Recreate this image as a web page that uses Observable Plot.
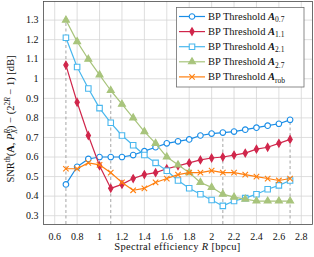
<!DOCTYPE html>
<html><head><meta charset="utf-8">
<script src="https://cdn.jsdelivr.net/npm/d3@7"></script>
<script src="https://cdn.jsdelivr.net/npm/@observablehq/plot@0.6"></script>
<style>
html,body{margin:0;padding:0;background:#fff;}
</style>
</head><body><div id="chart"></div>
<script>
// Spectral efficiency R [bpcu]
const rate = [0.7,0.8,0.9,1.0,1.1,1.2,1.3,1.4,1.5,1.6,1.7,1.8,1.9,2.0,2.1,2.2,2.3,2.4,2.5,2.6,2.7];
// SNR gap values [dB] per BP threshold
const bpA07 = [0.46,0.55,0.59,0.60,0.60,0.60,0.61,0.63,0.65,0.67,0.68,0.69,0.71,0.72,0.725,0.73,0.74,0.75,0.76,0.77,0.79];
const bpA11 = [1.07,0.88,0.71,0.555,0.44,0.46,0.49,0.51,0.52,0.54,0.555,0.57,0.585,0.595,0.60,0.61,0.62,0.64,0.65,0.67,0.69];
const bpA21 = [1.21,1.06,0.95,0.85,0.775,0.71,0.66,0.61,0.57,0.53,0.48,0.44,0.41,0.38,0.35,0.375,0.39,0.41,0.435,0.455,0.48];
const bpA27 = [1.30,1.19,1.10,1.02,0.94,0.87,0.80,0.73,0.67,0.60,0.56,0.52,0.47,0.445,0.41,0.395,0.385,0.375,0.375,0.375,0.375];
const bpArob = [0.54,0.54,0.57,0.56,0.52,0.47,0.43,0.44,0.47,0.49,0.51,0.52,0.52,0.53,0.52,0.52,0.51,0.50,0.49,0.48,0.49];
const seriesKeys = ["0.7","1.1","2.1","2.7","rob"];
const thresholds = [0.7, 1.1, 2.1, 2.7];
const xTicks = [0.6,0.8,1.0,1.2,1.4,1.6,1.8,2.0,2.2,2.4,2.6,2.8];
const yTicks = [0.3,0.4,0.5,0.6,0.7,0.8,0.9,1.0,1.1,1.2,1.3];

const styles = {
  "0.7": {color:"#1a8de6", symbol:"circle", fill:"white", r:2.8, sw:1.2},
  "1.1": {color:"#d0264b", symbol:"diamond", fill:"#d0264b", r:2.3, sw:1.2},
  "2.1": {color:"#49b7ee", symbol:"square", fill:"white", r:3.1, sw:1.2},
  "2.7": {color:"#a8c47c", symbol:"triangle", fill:"#a8c47c", r:2.6, sw:1.2},
  "rob": {color:"#ff7f0e", symbol:"times", fill:"none", r:2.6, sw:1.2}
};
const valuesByKey = {"0.7":bpA07, "1.1":bpA11, "2.1":bpA21, "2.7":bpA27, "rob":bpArob};

const rows = seriesKeys.flatMap(k => rate.map((x,i)=>({series:k, x, y:valuesByKey[k][i]})));
const yDomain = [0.255, 1.395];
const ruleRows = thresholds.map(t => {
  const i = rate.findIndex(r => Math.abs(r - t) < 1e-9);
  return {x:t, top: d3.max(seriesKeys, k => valuesByKey[k][i])};
});
const fmt = d => String(+(+d).toFixed(1));
const font = "'Liberation Serif', serif";

const marks = [
  Plot.gridX(xTicks, {stroke:"#d6d6d6", strokeOpacity:1, strokeWidth:0.8}),
  Plot.gridY(yTicks, {stroke:"#d6d6d6", strokeOpacity:1, strokeWidth:0.8}),
  Plot.ruleX(ruleRows, {x:"x", y1:() => yDomain[0], y2:"top", stroke:"#808080", strokeWidth:0.7, strokeDasharray:"3,2.5"})
];
for (const k of seriesKeys) {
  const s = styles[k];
  const data = rows.filter(d => d.series === k);
  marks.push(Plot.line(data, {x:"x", y:"y", stroke:s.color, strokeWidth:s.sw}));
  marks.push(Plot.dot(data, {x:"x", y:"y", symbol:()=>s.symbol, r:s.r, stroke:s.color, fill:s.fill, strokeWidth:1.1}));
}
marks.push(Plot.frame({stroke:"#4a4a4a", strokeWidth:0.8}));
marks.push(Plot.axisX(xTicks, {tickSize:0, tickPadding:8, tickFormat:fmt, label:null, fontSize:10}));
marks.push(Plot.axisY(yTicks, {tickSize:0, tickPadding:5, tickFormat:fmt, label:null, fontSize:10}));

const chart = Plot.plot({
  width:314, height:257,
  marginLeft:43, marginRight:2, marginTop:1, marginBottom:33,
  style:{fontFamily:font, fontSize:"10px", background:"white", color:"#111"},
  x:{domain:[0.5,2.9]},
  y:{domain:yDomain},
  symbol:{type:"identity"},
  marks
});
document.getElementById("chart").append(chart);

const svg = d3.select(chart);
// x label
const xl = svg.append("text").attr("x", 177.5).attr("y", 249.5).attr("text-anchor","middle")
  .attr("font-family", font).attr("font-size", 10.5).attr("fill","#111").attr("letter-spacing", 0.3);
xl.append("tspan").text("Spectral efficiency ");
xl.append("tspan").attr("font-style","italic").text("R");
xl.append("tspan").text(" [bpcu]");

// y label
const yl = svg.append("text").attr("transform","translate(14,119) rotate(-90)").attr("text-anchor","middle")
  .attr("font-family", font).attr("font-size", 10.5).attr("fill","#111");
const parts = [
  {t:"SNR"},
  {t:"th", fs:7.5, dy:-4},
  {t:"(", dy:4},
  {t:"A", fw:"bold"},
  {t:", "},
  {t:"P", fi:true},
  {t:"R", fs:7.5, fi:true, dy:-4},
  {t:"X", fs:7.5, fi:true, dx:-4.6, dy:7},
  {t:") \u2212 (2", dy:-3},
  {t:"2", fs:7.5, dy:-4},
  {t:"R", fs:7.5, fi:true},
  {t:" \u2212 1) [dB]", dy:4}
];
for (const p of parts) {
  const ts = yl.append("tspan").text(p.t);
  if (p.fs) ts.attr("font-size", p.fs);
  if (p.fi) ts.attr("font-style","italic");
  if (p.fw) ts.attr("font-weight", p.fw);
  if (p.dx) ts.attr("dx", p.dx);
  if (p.dy) ts.attr("dy", p.dy);
}

// legend
const lg = svg.append("g");
lg.append("rect").attr("x",176.5).attr("y",7.5).attr("width",127.5).attr("height",79.5)
  .attr("fill","white").attr("stroke","#6e6e6e").attr("stroke-width",0.8);
const symMap = {circle:d3.symbolCircle, diamond:d3.symbolDiamond, square:d3.symbolSquare, triangle:d3.symbolTriangle, times:d3.symbolTimes};
seriesKeys.forEach((k,i) => {
  const s = styles[k];
  const y = 16.5 + i*15.1;
  lg.append("line").attr("x1",179).attr("x2",205).attr("y1",y).attr("y2",y).attr("stroke",s.color).attr("stroke-width",s.sw);
  lg.append("path").attr("transform",`translate(192,${y})`)
    .attr("d", d3.symbol(symMap[s.symbol], Math.PI*s.r*s.r)())
    .attr("fill", s.fill).attr("stroke", s.color).attr("stroke-width",1.1);
  const tx = lg.append("text").attr("x",208).attr("y",y+3.5).attr("text-anchor","start")
    .attr("font-family",font).attr("font-size",10.5).attr("fill","#111");
  tx.append("tspan").text("BP Threshold ");
  tx.append("tspan").attr("font-weight","bold").attr("font-style","italic").text("A");
  tx.append("tspan").attr("font-size",7.5).attr("dy",2.2).text(k);
});
</script>
</body></html>
